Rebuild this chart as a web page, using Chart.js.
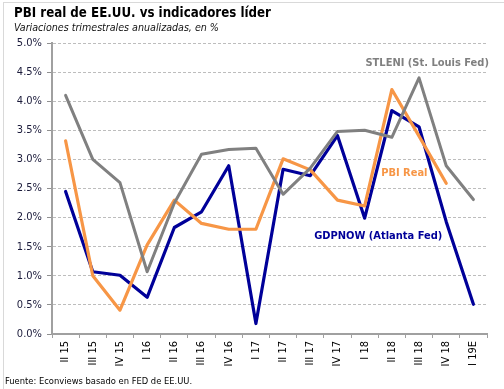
<!DOCTYPE html>
<html>
<head>
<meta charset="utf-8">
<script src="https://cdn.jsdelivr.net/npm/chart.js@4/dist/chart.umd.min.js"></script>
<style>
  html, body { margin: 0; padding: 0; background: #fff; }
  #wrap { position: relative; width: 504px; height: 389px; }
  #frame { position: absolute; left: 3px; top: 2px; width: 520px; height: 400px; border-top: 1px solid #d9d9d9; border-left: 1px solid #d9d9d9; box-sizing: border-box; }
  canvas { position: absolute; left: 0; top: 0; }
</style>
</head>
<body>
<div id="wrap">
  <div id="frame"></div>
  <canvas id="c" width="504" height="389"></canvas>
</div>
<script>
const categories = ["II 15","III 15","IV 15","I 16","II 16","III 16","IV 16","I 17","II 17","III 17","IV 17","I 18","II 18","III 18","IV 18","I 19E"];
const stleni = [4.1, 3.0, 2.6, 1.07, 2.25, 3.09, 3.17, 3.19, 2.4, 2.85, 3.48, 3.5, 3.38, 4.4, 2.89, 2.31];
const pbiReal = [3.32, 1.0, 0.41, 1.53, 2.3, 1.9, 1.8, 1.8, 3.01, 2.82, 2.3, 2.2, 4.2, 3.4, 2.59, null];
const gdpnow = [2.45, 1.07, 1.01, 0.63, 1.83, 2.1, 2.89, 0.18, 2.83, 2.72, 3.41, 1.99, 3.84, 3.56, 1.93, 0.51];
const yTicks = [0, 0.5, 1.0, 1.5, 2.0, 2.5, 3.0, 3.5, 4.0, 4.5, 5.0];

const titleText = "PBI real de EE.UU. vs indicadores líder";
const subtitleText = "Variaciones trimestrales anualizadas, en %";
const sourceText = "Fuente: Econviews basado en FED de EE.UU.";

// series labels placed in data space: [text, category position, value, color]
const seriesLabels = [
  ["STLENI (St. Louis Fed)", 13.3, 4.66, "#808080"],
  ["PBI Real", 12.46, 2.77, "#F79646"],
  ["GDPNOW (Atlanta Fed)", 11.5, 1.68, "#000099"]
];

const FONT = "'DejaVu Sans Condensed', 'DejaVu Sans', Verdana, sans-serif";

const textPlugin = {
  id: 'texts',
  afterDraw(chart) {
    const ctx = chart.ctx;
    ctx.save();
    ctx.textBaseline = 'alphabetic';
    ctx.textAlign = 'left';
    ctx.fillStyle = '#000';
    ctx.font = "bold 13.2px " + FONT;
    ctx.fillText(titleText, 14, 17);
    ctx.font = "italic 10.6px " + FONT;
    ctx.fillStyle = '#111';
    ctx.fillText(subtitleText, 14, 31);
    ctx.font = "9.3px " + FONT;
    ctx.fillStyle = '#000';
    ctx.fillText(sourceText, 5, 384);
    const xs = chart.scales.x, ys = chart.scales.y;
    ctx.textAlign = 'center';
    ctx.textBaseline = 'middle';
    ctx.font = "bold 11px " + FONT;
    seriesLabels.forEach(([t, ci, v, col]) => {
      const x0 = xs.getPixelForValue(Math.floor(ci));
      const x1 = xs.getPixelForValue(Math.floor(ci) + 1);
      const x = x0 + (x1 - x0) * (ci - Math.floor(ci));
      ctx.fillStyle = col;
      ctx.fillText(t, x, ys.getPixelForValue(v));
    });
    ctx.restore();
  }
};

new Chart(document.getElementById('c'), {
  type: 'line',
  data: {
    labels: categories,
    datasets: [
      { label: 'STLENI (St. Louis Fed)', data: stleni, borderColor: '#808080', borderWidth: 3 },
      { label: 'PBI Real', data: pbiReal, borderColor: '#F79646', borderWidth: 3.2 },
      { label: 'GDPNOW (Atlanta Fed)', data: gdpnow, borderColor: '#000099', borderWidth: 3.2 }
    ]
  },
  options: {
    responsive: false,
    animation: false,
    devicePixelRatio: 1,
    elements: { point: { radius: 0, hoverRadius: 0 }, line: { tension: 0, borderCapStyle: 'round', borderJoinStyle: 'round' } },
    layout: { padding: { left: 0, right: 17, top: 43, bottom: 0 } },
    plugins: { legend: { display: false }, tooltip: { enabled: false }, title: { display: false } },
    scales: {
      x: {
        type: 'category',
        offset: true,
        grid: { display: true, drawOnChartArea: false, drawTicks: true, tickLength: 4, offset: true, tickColor: '#a0a0a0', tickWidth: 1 },
        border: { display: true, color: '#a0a0a0', width: 2 },
        ticks: { minRotation: 90, maxRotation: 90, autoSkip: false, padding: 3, color: '#000', font: { family: FONT, size: 11 } },
        afterFit(scale) { scale.height = 389 - 334; }
      },
      y: {
        min: 0, max: 5,
        afterBuildTicks(scale) { scale.ticks = yTicks.map(v => ({ value: v })); },
        grid: { color: '#bdbdbd', lineWidth: 1, drawTicks: true, tickLength: 5, tickColor: '#909090', tickBorderDash: [] },
        border: { display: true, color: '#a0a0a0', width: 2, dash: [3, 2] },
        ticks: { padding: 5, color: '#1a1a3a', font: { family: FONT, size: 11 }, callback: v => Number(v).toFixed(1) + '%' },
        afterFit(scale) { scale.width = 52; }
      }
    }
  },
  plugins: [textPlugin]
});
</script>
</body>
</html>
